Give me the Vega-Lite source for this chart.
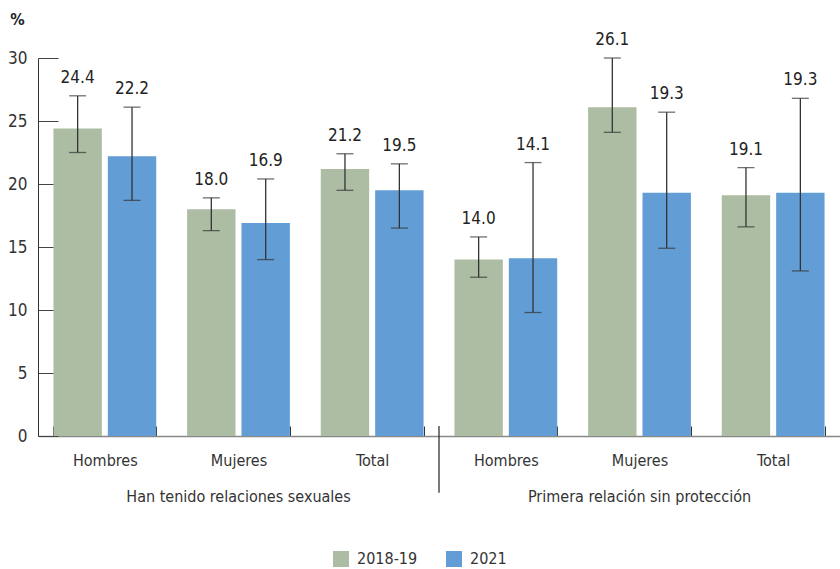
{
  "$schema": "https://vega.github.io/schema/vega-lite/v6.json",
  "width": 802,
  "height": 378,
  "autosize": {"type": "none"},
  "padding": {"left": 38, "top": 58, "right": 0, "bottom": 133},
  "config": {"font": "DejaVu Sans Condensed, Roboto, sans-serif", "view": {"stroke": null}},
  "data": {
    "values": [
      {"grupo": "Han tenido relaciones sexuales", "key": "Han tenido relaciones sexuales|Hombres", "year": "2018-19", "v": 24.4, "lo": 22.5, "hi": 27.0},
      {"grupo": "Han tenido relaciones sexuales", "key": "Han tenido relaciones sexuales|Hombres", "year": "2021", "v": 22.2, "lo": 18.7, "hi": 26.1},
      {"grupo": "Han tenido relaciones sexuales", "key": "Han tenido relaciones sexuales|Mujeres", "year": "2018-19", "v": 18.0, "lo": 16.3, "hi": 18.9},
      {"grupo": "Han tenido relaciones sexuales", "key": "Han tenido relaciones sexuales|Mujeres", "year": "2021", "v": 16.9, "lo": 14.0, "hi": 20.4},
      {"grupo": "Han tenido relaciones sexuales", "key": "Han tenido relaciones sexuales|Total", "year": "2018-19", "v": 21.2, "lo": 19.5, "hi": 22.4},
      {"grupo": "Han tenido relaciones sexuales", "key": "Han tenido relaciones sexuales|Total", "year": "2021", "v": 19.5, "lo": 16.5, "hi": 21.6},
      {"grupo": "Primera relación sin protección", "key": "Primera relación sin protección|Hombres", "year": "2018-19", "v": 14.0, "lo": 12.6, "hi": 15.8},
      {"grupo": "Primera relación sin protección", "key": "Primera relación sin protección|Hombres", "year": "2021", "v": 14.1, "lo": 9.8, "hi": 21.7},
      {"grupo": "Primera relación sin protección", "key": "Primera relación sin protección|Mujeres", "year": "2018-19", "v": 26.1, "lo": 24.1, "hi": 30.0},
      {"grupo": "Primera relación sin protección", "key": "Primera relación sin protección|Mujeres", "year": "2021", "v": 19.3, "lo": 14.9, "hi": 25.7},
      {"grupo": "Primera relación sin protección", "key": "Primera relación sin protección|Total", "year": "2018-19", "v": 19.1, "lo": 16.6, "hi": 21.3},
      {"grupo": "Primera relación sin protección", "key": "Primera relación sin protección|Total", "year": "2021", "v": 19.3, "lo": 13.1, "hi": 26.8}
    ]
  },
  "layer": [
    {
      "encoding": {
        "x": {
          "field": "key", "type": "nominal", "sort": null,
          "scale": {"paddingInner": 0.231, "paddingOuter": 0.1155},
          "axis": {
            "orient": "bottom", "title": null,
            "labelExpr": "split(datum.label, '|')[1]",
            "labelAngle": 0, "labelFontSize": 16, "labelColor": "#333",
            "labelPadding": 26,
            "tickBand": "extent", "tickSize": -10, "tickColor": "#333", "tickWidth": 1,
            "domainColor": "#888", "domainWidth": 1.5
          }
        },
        "xOffset": {
          "field": "year", "type": "nominal", "sort": ["2018-19", "2021"],
          "scale": {"paddingInner": 0.11, "paddingOuter": 0}
        }
      },
      "layer": [
        {
          "mark": {"type": "bar"},
          "encoding": {
            "y": {
              "field": "v", "type": "quantitative",
              "scale": {"domain": [0, 30]},
              "axis": {
                "values": [0, 5, 10, 15, 20, 25, 30],
                "grid": false,
                "tickSize": -20, "tickColor": "#444", "tickWidth": 1,
                "domainColor": "#333", "domainWidth": 1,
                "labelFontSize": 17, "labelColor": "#333", "labelPadding": 31,
                "title": "%", "titleAngle": 0, "titleFontSize": 16, "titleFontWeight": "bold",
                "titleColor": "#222", "titleX": -21, "titleY": -34, "titleAlign": "center",
                "titleBaseline": "alphabetic"
              }
            },
            "color": {
              "field": "year", "type": "nominal",
              "scale": {"domain": ["2018-19", "2021"], "range": ["#ADBDA3", "#629ED5"]},
              "legend": {
                "title": null, "orient": "none", "legendX": 295, "legendY": 493,
                "direction": "horizontal", "symbolType": "square", "symbolSize": 256,
                "symbolStrokeWidth": 0, "labelFontSize": 16, "labelColor": "#333",
                "columnPadding": 28, "labelOffset": 8
              }
            }
          }
        },
        {
          "mark": {"type": "rule", "color": "#333", "strokeWidth": 1.3},
          "encoding": {
            "y": {"field": "lo", "type": "quantitative"},
            "y2": {"field": "hi"}
          }
        },
        {
          "mark": {"type": "tick", "color": "#333", "size": 17, "thickness": 1.3},
          "encoding": {"y": {"field": "lo", "type": "quantitative"}}
        },
        {
          "mark": {"type": "tick", "color": "#333", "size": 17, "thickness": 1.3},
          "encoding": {"y": {"field": "hi", "type": "quantitative"}}
        },
        {
          "mark": {"type": "text", "baseline": "bottom", "dy": -9, "fontSize": 17, "fontWeight": 500, "color": "#222"},
          "encoding": {
            "y": {"field": "hi", "type": "quantitative"},
            "text": {"field": "v", "type": "quantitative", "format": ".1f"}
          }
        }
      ]
    },
    {
      "data": {"values": [{"grupo": "Primera relación sin protección"}]},
      "mark": {"type": "rule", "color": "#222", "strokeWidth": 1.2},
      "encoding": {
        "x": {
          "field": "grupo", "type": "nominal", "bandPosition": 0,
          "scale": {
            "domain": ["Han tenido relaciones sexuales", "Primera relación sin protección"],
            "paddingInner": 0, "paddingOuter": 0
          },
          "axis": {
            "orient": "bottom", "title": null, "offset": 40, "labelPadding": 12,
            "labelAngle": 0, "labelFontSize": 16, "labelColor": "#333", "labelLimit": 0,
            "domain": false, "ticks": false
          }
        },
        "y": {"datum": 0.8, "type": "quantitative"},
        "y2": {"datum": -4.5}
      }
    }
  ],
  "resolve": {"scale": {"x": "independent"}}
}
